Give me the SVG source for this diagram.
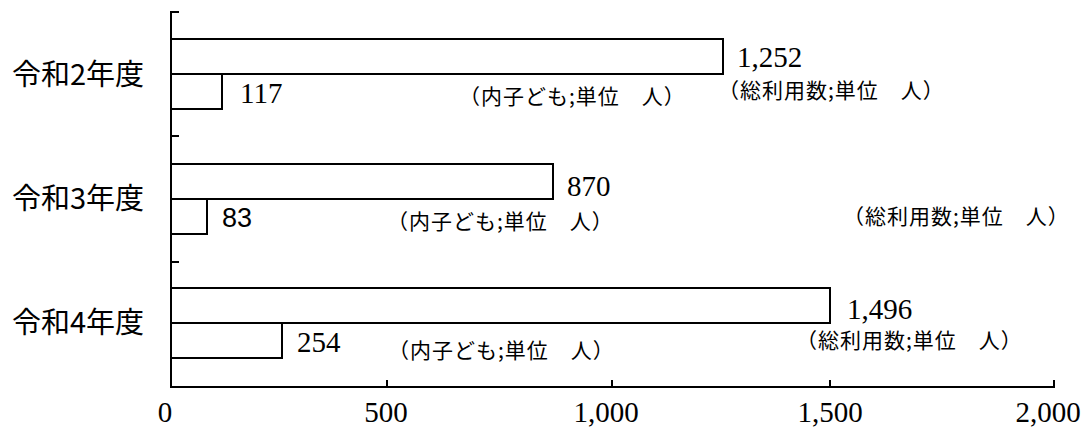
<svg xmlns="http://www.w3.org/2000/svg" width="1086" height="436" viewBox="0 0 1086 436">
<style>
.bar{fill:#fff;stroke:#000;stroke-width:2}
.ax{fill:none;stroke:#000;stroke-width:2}
.yr{font-family:"Noto Sans CJK JP","Noto Sans CJK SC",sans-serif;font-size:29px;fill:#000}
.num{font-family:"Liberation Serif",serif;font-size:29px;fill:#000}
.sans{font-family:"Liberation Sans",sans-serif;font-size:27px;fill:#000}
.note{font-family:"Noto Sans CJK JP","Noto Sans CJK SC",sans-serif;font-size:21px;letter-spacing:1px;fill:#000}
.tick{font-family:"Liberation Serif",serif;font-size:29px;fill:#000;text-anchor:middle}
</style>
<rect width="1086" height="436" fill="#fff"/>
<g id="axes">
<path class="ax" d="M179,12 H171 V387 H1054 V380"/>
<path class="ax" d="M171,136 H179 M171,262 H179 M387,387 V380 M612,387 V380 M830,387 V380"/>
<text class="tick" x="165" y="422">0</text>
<text class="tick" x="386" y="422">500</text>
<text class="tick" x="606" y="422">1,000</text>
<text class="tick" x="830" y="422">1,500</text>
<text class="tick" x="1048" y="422">2,000</text>
</g>
<g id="r2">
<text class="yr" x="12" y="85">令和2年度</text>
<rect class="bar" x="171" y="39" width="552" height="35"/>
<rect class="bar" x="171" y="74" width="51" height="35"/>
<text class="num" x="737" y="67">1,252</text>
<text class="note" x="718" y="98">（総利用数;単位　人）</text>
<text class="num" x="240" y="103">117</text>
<text class="note" x="459" y="104">（内子ども;単位　人）</text>
</g>
<g id="r3">
<text class="yr" x="12" y="209">令和3年度</text>
<rect class="bar" x="171" y="164" width="382" height="35"/>
<rect class="bar" x="171" y="199" width="36" height="35"/>
<text class="num" x="567" y="196">870</text>
<text class="note" x="843" y="224">（総利用数;単位　人）</text>
<text class="sans" x="222" y="227">83</text>
<text class="note" x="387" y="229">（内子ども;単位　人）</text>
</g>
<g id="r4">
<text class="yr" x="12" y="333">令和4年度</text>
<rect class="bar" x="171" y="288" width="659" height="35"/>
<rect class="bar" x="171" y="323" width="111" height="35"/>
<text class="num" x="847" y="319">1,496</text>
<text class="note" x="796" y="348">（総利用数;単位　人）</text>
<text class="num" x="297" y="352">254</text>
<text class="note" x="388" y="358">（内子ども;単位　人）</text>
</g>
</svg>
